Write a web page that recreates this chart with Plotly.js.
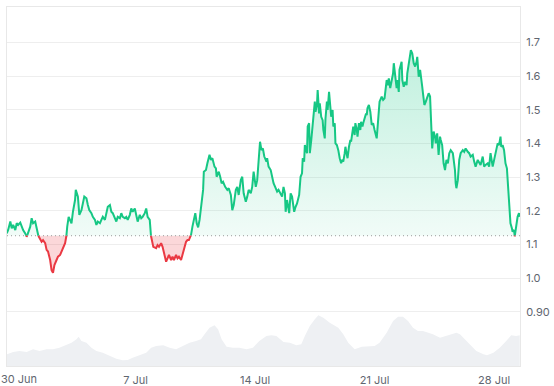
<!DOCTYPE html>
<html>
<head>
<meta charset="utf-8">
<script src="https://cdn.plot.ly/plotly-3.0.1.min.js"></script>
<style>html,body{margin:0;padding:0;background:#fff;}#chart{width:554px;height:386px;}</style>
</head>
<body>
<div id="chart"></div>
<script>
// Start of the series: 29 Jun 11:00 (UTC); offsets below are hours since then
const START_UTC = Date.UTC(2025, 5, 29, 11);
const HOUR_MS = 3600000;
const BASELINE = 1.126; // opening price (dotted reference line)

const priceHours = [0,2,5,7,9,12,14,16,19,21,23,26,28,30,33,35,37,40,42,44,47,49,51,54,56,58,61,63,65,67,70,72,75,77,79,82,84,85,87,89,91,93,96,97,100,
102,105,109,112,114,116,119,121,124,126,128,131,133,135,138,140,142,145,147,149,152,154,156,159,161,163,166,168,170,173,175,177,180,182,184,187,189,191,194,196,198,201,
202,204,206,210,212,214,217,219,221,224,226,228,231,233,235,238,240,242,245,247,249,252,254,256,259,261,263,265,267,269,271,273,274,276,277,280,282,285,287,289,292,294,295,298,300,302,304,307,
310,312,315,317,319,322,324,326,329,331,333,336,338,340,343,345,347,350,352,354,356,358,360,362,365,366,368,371,373,375,378,380,382,385,387,389,391,392,394,397,399,401,404,406,408,411,
413,415,416,418,419,422,423,425,426,428,430,431,433,434,436,437,439,440,442,444,445,447,448,450,451,453,454,456,458,459,461,462,464,466,468,470,471,473,475,476,478,479,481,483,484,486,487,489,490,492,493,495,497,498,500,501,503,505,506,507,509,511,
513,515,517,520,522,524,527,529,531,534,536,537,539,541,543,544,546,548,549,551,552,555,556,558,560,562,563,565,566,568,570,572,574,576,577,579,581,582,584,585,587,589,591,593,595,596,597,598,600,602,603,605,607,609,610,612,
614,616,618,620,622,624,627,629,630,631,632,634,636,638,641,643,645,648,650,652,655,657,659,662,664,666,669,671,673,676,678,680,683,685,687,690,692,694,695,697,699,701,703,705,706,708,710,711,713,714,716,718,720,721];

const prices = [1.133,1.143,1.168,1.148,1.158,1.143,1.163,1.158,1.165,1.153,1.143,1.133,1.123,1.133,1.153,1.178,1.163,1.168,1.143,1.128,1.113,1.108,1.113,1.104,1.084,1.079,1.054,1.024,1.016,1.039,1.054,1.064,1.069,1.079,1.093,1.104,1.128,1.153,1.182,1.173,1.163,1.197,1.232,1.262,1.242,
1.188,1.202,1.242,1.237,1.217,1.202,1.193,1.182,1.173,1.158,1.168,1.163,1.173,1.182,1.173,1.193,1.212,1.217,1.197,1.193,1.178,1.168,1.182,1.178,1.193,1.182,1.178,1.182,1.173,1.188,1.207,1.197,1.207,1.182,1.168,1.188,1.178,1.182,1.193,1.207,1.182,1.173,
1.133,1.113,1.093,1.089,1.098,1.093,1.104,1.093,1.074,1.049,1.059,1.069,1.054,1.064,1.054,1.069,1.059,1.064,1.054,1.069,1.084,1.108,1.113,1.113,1.128,1.153,1.178,1.193,1.163,1.151,1.173,1.212,1.217,1.262,1.316,1.321,1.341,1.366,1.351,1.356,1.331,1.326,1.301,1.316,1.301,1.282,1.286,1.271,
1.262,1.267,1.247,1.202,1.217,1.262,1.271,1.247,1.291,1.301,1.252,1.227,1.242,1.262,1.252,1.271,1.316,1.271,1.291,1.341,1.405,1.380,1.385,1.361,1.346,1.356,1.331,1.321,1.301,1.282,1.267,1.257,1.262,1.247,1.242,1.271,1.252,1.197,1.232,1.193,1.252,1.242,1.197,1.212,1.222,1.247,
1.301,1.311,1.356,1.346,1.395,1.371,1.450,1.460,1.371,1.410,1.464,1.479,1.524,1.494,1.514,1.558,1.489,1.519,1.479,1.469,1.440,1.415,1.474,1.524,1.499,1.553,1.529,1.479,1.499,1.450,1.460,1.400,1.395,1.380,1.356,1.341,1.351,1.346,1.371,1.390,1.366,1.356,1.390,1.410,1.405,1.440,1.450,1.425,1.460,1.440,1.420,1.460,1.440,1.464,1.450,1.460,1.479,1.489,1.484,1.504,1.514,1.494,
1.455,1.460,1.440,1.415,1.469,1.524,1.539,1.529,1.534,1.588,1.573,1.593,1.564,1.588,1.608,1.638,1.598,1.564,1.588,1.553,1.618,1.642,1.588,1.568,1.583,1.573,1.608,1.642,1.657,1.677,1.667,1.638,1.628,1.642,1.657,1.598,1.618,1.593,1.568,1.549,1.514,1.524,1.539,1.549,1.539,1.499,1.440,1.385,1.435,1.420,1.400,1.430,1.366,1.420,1.410,1.395,
1.341,1.321,1.351,1.341,1.371,1.380,1.371,1.341,1.321,1.282,1.267,1.291,1.351,1.371,1.380,1.375,1.385,1.375,1.371,1.361,1.366,1.346,1.331,1.351,1.341,1.336,1.361,1.331,1.336,1.341,1.331,1.371,1.331,1.351,1.366,1.400,1.395,1.420,1.390,1.395,1.380,1.341,1.326,1.271,1.242,1.163,1.148,1.138,1.143,1.124,1.153,1.182,1.193,1.182];

const volumeHours = [0,9,18,28,37,46,56,65,74,84,91,98,101,105,112,119,126,135,145,154,163,170,177,187,196,203,210,220,229,238,248,257,266,273,278,285,292,297,302,309,318,327,337,346,355,365,372,379,389,398,407,414,419,426,433,438,445,454,466,473,480,489,499,508,517,524,534,543,550,557,564,571,578,585,592,599,609,616,623,632,637,644,651,660,670,675,684,693,702,709,716,721];
const volumes = [11.7,14,15,14,16.7,15,16.7,16.7,18.3,21.7,23.3,26.7,29.3,25,23.3,18.3,15,13.3,10,7.3,5.7,6,8.3,10.7,13.3,18.3,20,20.7,18.3,16.7,20,23.3,25,26.7,31.7,38.3,40.7,36.7,26.7,19.3,18.3,18.3,16.7,18.3,25,30,30.7,30,24,23.3,20.7,21.7,30,40,46.7,50.7,48.3,43.3,38.3,31.7,23.3,16.7,19.3,20,20,23.3,33.3,45,49.3,49.3,45,38.3,35,35,33.3,31.7,28.3,30,31.7,33.3,31.7,26.7,21.7,15,11.7,10.7,13.3,18.3,25,30.7,30,30.7];

// first date label sits at the very left edge, so it is drawn as a left-anchored annotation
const firstTickDate = '2025-06-30';
const firstTickText = '30 Jun';
const xTickDates = ['2025-07-07', '2025-07-14', '2025-07-21', '2025-07-28'];
const xTickText = ['7 Jul', '14 Jul', '21 Jul', '28 Jul'];
const yTickVals = [0.9,1.0,1.1,1.2,1.3,1.4,1.5,1.6,1.7];
const yTickText = ['0.90','1.0','1.1','1.2','1.3','1.4','1.5','1.6','1.7'];

const toTime = h => START_UTC + h * HOUR_MS;

// insert baseline crossings so colours switch exactly at the reference line
const ax = [], ay = [];
for (let i = 0; i < prices.length; i++) {
  ax.push(priceHours[i]); ay.push(prices[i]);
  if (i < prices.length - 1) {
    const a = prices[i] - BASELINE, b = prices[i+1] - BASELINE;
    if (a * b < 0) {
      const f = (BASELINE - prices[i]) / (prices[i+1] - prices[i]);
      ax.push(priceHours[i] + f * (priceHours[i+1] - priceHours[i]));
      ay.push(BASELINE);
    }
  }
}
const tx = ax.map(toTime);
const baseY = ay.map(() => BASELINE);
const upperY = ay.map(v => Math.max(v, BASELINE));
const lowerY = ay.map(v => Math.min(v, BASELINE));
const greenY = ay.map(v => v >= BASELINE ? v : null);
const redY = ay.map(v => v <= BASELINE ? v : null);

const GREEN = '#16c784';
const RED = '#ea3943';
const TICK_COLOR = '#5f6670';

const traces = [
  {x: tx, y: baseY, mode: 'lines', line: {width: 0}, hoverinfo: 'skip', showlegend: false},
  {x: tx, y: lowerY, mode: 'lines', line: {width: 0}, fill: 'tonexty', fillcolor: 'rgba(234,57,67,0.2)', hoverinfo: 'skip', showlegend: false},
  {x: tx, y: baseY, mode: 'lines', line: {width: 0}, hoverinfo: 'skip', showlegend: false},
  {x: tx, y: upperY, mode: 'lines', line: {width: 0}, fill: 'tonexty',
   fillgradient: {type: 'vertical', start: BASELINE, stop: 1.7,
     colorscale: [[0, 'rgba(22,199,132,0.06)'], [1, 'rgba(22,199,132,0.28)']]},
   hoverinfo: 'skip', showlegend: false},
  {x: tx, y: greenY, mode: 'lines', line: {color: GREEN, width: 2}, showlegend: false},
  {x: tx, y: redY, mode: 'lines', line: {color: RED, width: 2}, showlegend: false},
  {x: volumeHours.map(toTime), y: volumes, yaxis: 'y2', mode: 'lines', line: {width: 0},
   fill: 'tozeroy', fillcolor: '#eef0f3', hoverinfo: 'skip', showlegend: false}
];

const layout = {
  width: 554, height: 386,
  margin: {l: 7, r: 34, t: 7, b: 20},
  paper_bgcolor: '#ffffff', plot_bgcolor: '#ffffff',
  font: {family: 'Inter, "DejaVu Sans", sans-serif', size: 11, color: TICK_COLOR},
  showlegend: false,
  xaxis: {
    type: 'date',
    range: [toTime(0.35), toTime(721.4)],
    tickmode: 'array', tickvals: xTickDates, ticktext: xTickText,
    showgrid: false, zeroline: false,
    showline: true, mirror: true, linecolor: '#e8e8e8', linewidth: 1,
    ticks: 'outside', ticklen: 4, tickcolor: 'rgba(0,0,0,0)',
    tickfont: {size: 11, color: TICK_COLOR}
  },
  yaxis: {
    side: 'right',
    range: [0.7394, 1.8048],
    tickvals: yTickVals, ticktext: yTickText,
    showgrid: true, gridcolor: '#eeeeee', gridwidth: 1,
    zeroline: false,
    showline: true, mirror: true, linecolor: '#e8e8e8', linewidth: 1,
    ticks: 'outside', ticklen: 3, tickcolor: 'rgba(0,0,0,0)',
    tickfont: {size: 11, color: TICK_COLOR}
  },
  yaxis2: {overlaying: 'y', range: [0, 359.3], visible: false, fixedrange: true},
  annotations: [{
    x: firstTickDate, xref: 'x', xanchor: 'left', xshift: -16,
    y: 0, yref: 'paper', yanchor: 'top', yshift: -5,
    text: firstTickText, showarrow: false, borderpad: 0,
    font: {size: 11, color: TICK_COLOR}
  }],
  shapes: [{
    type: 'line', xref: 'paper', x0: 0, x1: 1, yref: 'y', y0: BASELINE, y1: BASELINE,
    line: {color: '#9a9a9a', width: 1, dash: '1px,3px'}, layer: 'above'
  }]
};

Plotly.newPlot('chart', traces, layout, {displayModeBar: false, staticPlot: true});
</script>
</body>
</html>
